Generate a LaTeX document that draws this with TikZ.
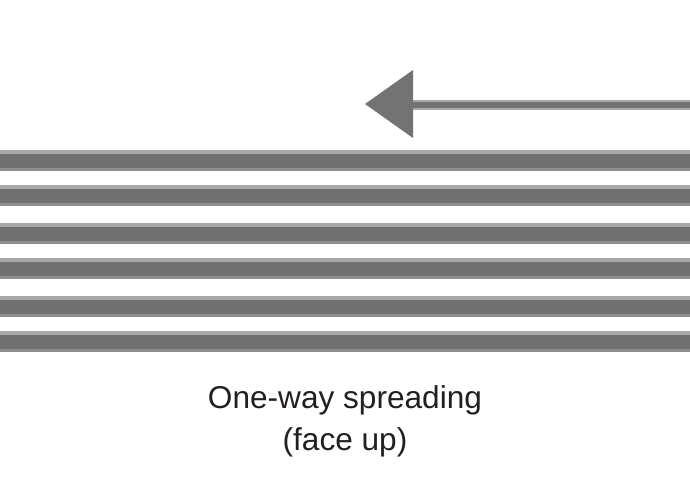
\documentclass[tikz,border=0pt]{standalone}
\usepackage{fontspec}
\setmainfont{Liberation Sans}
\definecolor{stripedark}{HTML}{707070}
\definecolor{stripetop}{HTML}{A8A8A8}
\definecolor{stripebot}{HTML}{8E8E8E}
\definecolor{arrowgray}{HTML}{737373}
\definecolor{textdark}{HTML}{231F20}
\tikzset{
  stripetopband/.style={fill=stripetop},
  stripedarkband/.style={fill=stripedark},
  stripebotband/.style={fill=stripebot},
  labeltext/.style={text=textdark, font=\fontsize{31.6}{42}\selectfont, align=center, inner sep=0pt},
}
\begin{document}
\begin{tikzpicture}[x=1pt,y=-1pt]
\useasboundingbox (0,0) rectangle (690,500);
% stripes: top y of each
\foreach \t in {150,185,223,258,296,331}{
  \fill[stripetopband] (0,\t) rectangle (690,\t+4);
  \fill[stripedarkband] (0,\t+4) rectangle (690,\t+18);
  \fill[stripebotband] (0,\t+18) rectangle (690,\t+21);
}
% arrow
\coordinate (astart) at (690,105);
\coordinate (abase) at (413,105);
\coordinate (atip) at (365,104);
\fill[stripetop] (abase) ++(0,-5) rectangle (690,110);
\fill[arrowgray] (abase) ++(0,-3) rectangle (690,108);
\fill[arrowgray] (atip) -- (413,70) -- (413,138) -- cycle;
% label
\node[labeltext] (lbl) at (345,421) {One-way spreading\\(face up)};
\end{tikzpicture}
\end{document}
